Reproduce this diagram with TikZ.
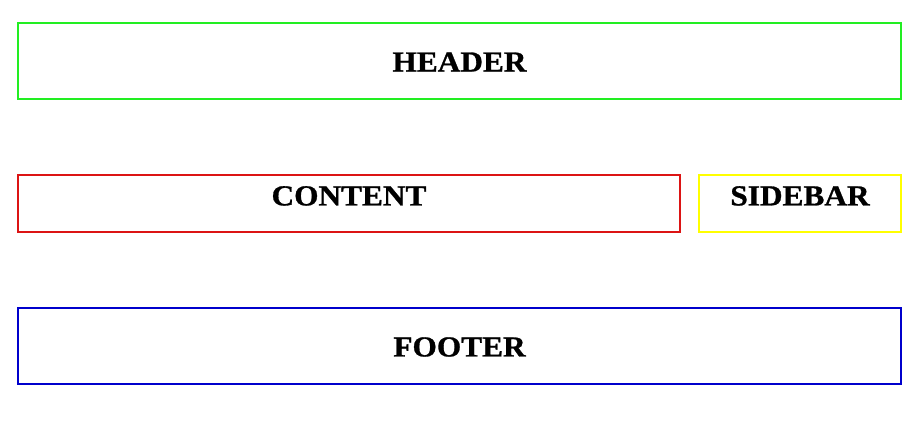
\documentclass[tikz,border=0pt]{standalone}
\usepackage{fontspec}
\setmainfont{Liberation Serif}
\newfontfamily\titlefont[FakeStretch=1.08, FakeBold=1]{Liberation Serif}
\usepackage{xcolor}
\usepackage{tikz}
\usetikzlibrary{positioning}

\definecolor{headgreen}{RGB}{34,238,34}
\definecolor{contentred}{RGB}{220,20,20}
\definecolor{sideyellow}{RGB}{255,255,0}
\definecolor{footblue}{RGB}{0,0,204}

\begin{document}
\begin{tikzpicture}[x=1pt, y=-1pt,
region/.style={rectangle, draw=#1, line width=2pt, inner sep=0pt, outer sep=0pt},
title/.style={font=\titlefont\bfseries\fontsize{29}{32}\selectfont, inner sep=0pt}
]
	\useasboundingbox (0,0) rectangle (922,427);
	\node[region=headgreen, minimum width=883pt, minimum height=76pt] (header) at (459.5,61) {};
	\node[region=contentred, minimum width=662pt, minimum height=57pt] (content) at (349,203.5) {};
	\node[region=sideyellow, minimum width=202pt, minimum height=57pt] (sidebar) at (800,203.5) {};
	\node[region=footblue, minimum width=883pt, minimum height=76pt] (footer) at (459.5,346) {};

	\node[title] (headertext) at ([yshift=-1pt]header.center) {HEADER};
	\node[title, anchor=north, shift={(0pt,-11pt)}] (contenttext) at (content.north) {CONTENT};
	\node[title, anchor=north, shift={(0pt,-11pt)}] (sidebartext) at (sidebar.north) {SIDEBAR};
	\node[title] (footertext) at ([yshift=-1pt]footer.center) {FOOTER};
\end{tikzpicture}
\end{document}
